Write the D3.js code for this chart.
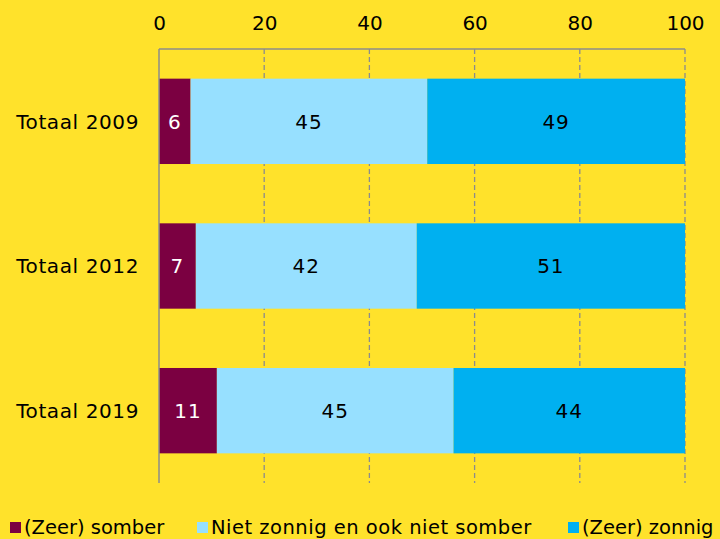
<!DOCTYPE html>
<html><head><meta charset="utf-8">
<script src="https://cdn.jsdelivr.net/npm/d3@7"></script>
<style>
html,body{margin:0;padding:0;background:#FFE22B;overflow:hidden;}
svg{display:block;font-family:"DejaVu Sans",sans-serif;}
</style></head>
<body>
<svg id="chart" width="720" height="539"></svg>
<script>
const categories = ["Totaal 2009", "Totaal 2012", "Totaal 2019"];
const seriesNames = ["(Zeer) somber", "Niet zonnig en ook niet somber", "(Zeer) zonnig"];
const somber = [6, 7, 11];
const neutraal = [45, 42, 45];
const zonnig = [49, 51, 44];
const tickValues = [0, 20, 40, 60, 80, 100];
const colors = ["#7B0041", "#97E0FF", "#00B0F0"];
const labelColors = ["#ffffff", "#000000", "#000000"];

(function () {
const svg = d3.select("#chart");
const W = 720, H = 539;
const FS = 20;
svg.append("rect").attr("width", W).attr("height", H).attr("fill", "#FFE22B");

const pL = 159, pR = 685, pT = 49, pB = 483;
const x = d3.scaleLinear().domain([0, 100]).range([pL, pR]);
const y = d3.scaleBand().domain(categories).range([pT, pB]).paddingInner(0.41).paddingOuter(0.205);

const g = svg.append("g");
g.selectAll("line.grid").data(tickValues.slice(1)).enter().append("line")
  .attr("x1", d => x(d)).attr("x2", d => x(d)).attr("y1", pT).attr("y2", pB)
  .attr("stroke", "#8c8c8c").attr("stroke-width", 1.3).attr("stroke-dasharray", "5,3");
g.append("line").attr("x1", pL).attr("x2", pR).attr("y1", pT).attr("y2", pT)
  .attr("stroke", "#8c8c8c").attr("stroke-width", 1.3);

const rows = categories.map((c, i) => ({cat: c, vals: [somber[i], neutraal[i], zonnig[i]]}));
const stackData = [];
rows.forEach(r => {
  let acc = 0;
  r.vals.forEach((v, k) => { stackData.push({cat: r.cat, k, v, x0: acc, x1: acc + v}); acc += v; });
});

svg.selectAll("rect.bar").data(stackData).enter().append("rect")
  .attr("x", d => x(d.x0)).attr("width", d => x(d.x1) - x(d.x0))
  .attr("y", d => y(d.cat)).attr("height", y.bandwidth())
  .attr("fill", d => colors[d.k]);

svg.selectAll("text.val").data(stackData).enter().append("text")
  .attr("x", d => (x(d.x0) + x(d.x1)) / 2)
  .attr("y", d => y(d.cat) + y.bandwidth() / 2)
  .attr("dy", "0.36em").attr("text-anchor", "middle")
  .attr("font-size", FS).attr("letter-spacing", 1).attr("fill", d => labelColors[d.k])
  .text(d => d.v);

svg.append("line").attr("x1", pL).attr("x2", pL).attr("y1", pT).attr("y2", pB)
  .attr("stroke", "#8c8c8c").attr("stroke-width", 1.5);

const xAxis = d3.axisTop(x).tickValues(tickValues).tickSize(0).tickPadding(0);
const ax = svg.append("g").attr("transform", `translate(0,${pT - 19.5})`).call(xAxis);
ax.select(".domain").remove();
ax.selectAll("text").attr("font-size", FS).attr("fill", "#000").attr("font-family", "DejaVu Sans");

const yAxis = d3.axisLeft(y).tickSize(0).tickPadding(20);
const ay = svg.append("g").attr("transform", `translate(${pL},0)`).call(yAxis);
ay.select(".domain").remove();
ay.selectAll("text").attr("font-size", FS).attr("letter-spacing", 0.6).attr("fill", "#000")
  .attr("font-family", "DejaVu Sans").attr("dy", "0.36em");

const legendX = [10, 197, 568];
const legendSpacing = [0, 0.5, 0];
const lg = svg.selectAll("g.leg").data(seriesNames).enter().append("g")
  .attr("transform", (d, i) => `translate(${legendX[i]},522)`);
lg.append("rect").attr("width", 11).attr("height", 11).attr("fill", (d, i) => colors[i]);
lg.append("text").attr("x", 14).attr("y", 11.5).attr("font-size", 19.5)
  .attr("letter-spacing", (d, i) => legendSpacing[i])
  .attr("fill", "#000").text(d => d);
})();
</script>
</body></html>
